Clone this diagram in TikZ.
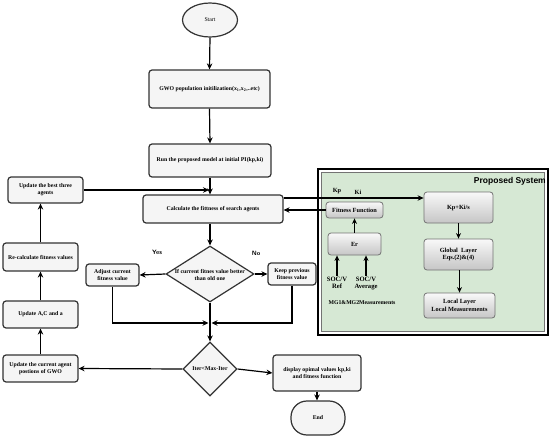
\documentclass[tikz,border=0pt]{standalone}
\usepackage{fontspec}
\setmainfont{Liberation Serif}
\newfontfamily\sysfont{Liberation Sans}
\usetikzlibrary{shapes.geometric,arrows.meta,calc}
\tikzset{
  box/.style={draw=black!80, line width=1.2pt, rounded corners=3pt, fill=gray!8, align=center,
    font=\fontsize{5.8}{6.8}\selectfont\bfseries, inner sep=1pt},
  dia/.style={draw=black!80, line width=1.2pt, fill=gray!8, diamond, inner sep=0pt},
  sbox/.style={draw=black!55, line width=0.8pt, rounded corners=3pt, top color=gray!5, bottom color=gray!45,
    align=center, font=\fontsize{6.3}{7.3}\selectfont\bfseries, inner sep=1pt},
  lbl/.style={font=\fontsize{5.8}{6.8}\selectfont\bfseries, align=center, inner sep=0.5pt},
  arr/.style={-{Stealth[length=6pt,width=5.5pt]}, line width=1.2pt},
  sarr/.style={-{Stealth[length=5.5pt,width=5pt]}, line width=1.4pt},
}
\begin{document}
\begin{tikzpicture}[x=1pt,y=-1pt]
\useasboundingbox (0,0) rectangle (550,439);
% proposed system frame
\draw[line width=2.4pt, black] (318,169) rectangle (548,335);
\draw[line width=0.9pt, black!55, fill={rgb,255:red,214;green,232;blue,212}] (321.5,172.5) rectangle (544.5,331.5);
\node[font=\sysfont\fontsize{8.5}{9}\selectfont\bfseries, anchor=east, inner sep=0pt] (title) at (546,181) {Proposed System};
\node[lbl, font=\fontsize{6.3}{7}\selectfont\bfseries] (kp) at (337,191) {Kp};
\node[lbl, font=\fontsize{6.3}{7}\selectfont\bfseries] (ki) at (358,192) {Ki};
\node[sbox, minimum width=57pt, minimum height=16pt] (fit) at (354.5,210) {Fitness Function};
\node[sbox, minimum width=53pt, minimum height=22pt] (er) at (354.5,244) {Er};
\node[lbl, font=\fontsize{6.6}{7.4}\selectfont\bfseries, anchor=north] (sref) at (337,276) {SOC/V\\Ref};
\node[lbl, font=\fontsize{6.6}{7.4}\selectfont\bfseries, anchor=north] (savg) at (366,276) {SOC/V\\Average};
\node[lbl] (mg) at (362,303) {MG1\&MG2Measurements};
\node[sbox, minimum width=69pt, minimum height=31pt] (kpki) at (458.5,207.5) {Kp+Ki/s};
\node[sbox, minimum width=69pt, minimum height=31pt] (glob) at (458.5,254.5) {Global~~Layer\\Eqs.(2)\&(4)};
\node[sbox, minimum width=71pt, minimum height=25pt] (local) at (459.5,305.5) {Local Layer\\Local Measurements};
\draw[sarr] (er.north) -- (fit.south);
\draw[sarr] (sref.north) -- (sref.north |- er.south);
\draw[sarr] (savg.north) -- (savg.north |- er.south);
\draw[sarr] (kpki.south) -- (glob.north);
\draw[sarr] (glob.south) -- (local.north |- glob.south) -- (local.north);
% flowchart
\node[ellipse, draw=black!80, line width=1.2pt, fill=gray!8, minimum width=55pt, minimum height=34pt,
  font=\fontsize{5.8}{6.8}\selectfont] (start) at (210,20) {Start};
\node[box, minimum width=121pt, minimum height=38pt] (gwo) at (209.5,89) {GWO population initilization(x\textsubscript{1},x\textsubscript{2},..etc)};
\node[box, minimum width=122pt, minimum height=33pt] (run) at (210,160.5) {Run the proposed model at initial PI(kp,ki)};
\node[box, minimum width=140pt, minimum height=28pt] (calc) at (213,209) {Calculate the fittness of search agents};
\node[box, minimum width=75pt, minimum height=26pt] (best) at (45.5,190) {Update the best three\\agents};
\node[box, minimum width=75pt, minimum height=28pt] (recalc) at (40.5,257) {Re-calculate fitness values};
\node[dia, minimum width=88pt, minimum height=56pt] (dia1) at (210,274) {};
\node[lbl] (dia1t) at (210,275) {If current fitnes value better\\than old one};
\node[lbl, font=\fontsize{6.3}{7}\selectfont\bfseries\sffamily] (yes) at (157,252) {Yes};
\node[lbl, font=\fontsize{6.3}{7}\selectfont\bfseries\sffamily] (no) at (256,253) {No};
\node[box, minimum width=53pt, minimum height=22pt] (adjust) at (112.5,275) {Adjust current\\fitness value};
\node[box, minimum width=48pt, minimum height=22pt] (keep) at (292,274) {Keep previous\\fitness value};
\coordinate (merge) at (210,323);
\node[dia, minimum width=54pt, minimum height=54pt] (iter) at (210,369) {};
\node[lbl] (itert) at (210,369) {Iter<Max-Iter};
\node[box, minimum width=75pt, minimum height=27pt] (updcur) at (40.5,368.5) {Update the current agent\\postions of GWO};
\node[box, minimum width=75pt, minimum height=27pt] (updac) at (40.5,314.5) {Update A,C and a};
\node[box, minimum width=88pt, minimum height=36pt] (disp) at (317,373) {display opimal values kp,ki\\and fitness function};
\node[draw=black!80, line width=1.2pt, fill=gray!8, rounded corners=16pt, minimum width=54pt, minimum height=34pt,
  font=\fontsize{5.8}{6.8}\selectfont\bfseries] (end) at (318,418) {End};
% connectors
\draw[arr] (start.south) -- (gwo.north);
\draw[arr] (gwo.south) -- (run.north);
\draw[arr] (run.south) -- (run.south |- calc.north);
\draw[arr] (best.east) -- ([xshift=-1pt]run.south |- best.east);
\draw[arr] (calc.south -| dia1.north) -- (dia1.north);
\draw[arr] (dia1.west) -- (adjust.east);
\draw[arr] (dia1.east) -- (keep.west);
\draw[arr] (adjust.south) |- ([xshift=-1.5pt]merge);
\draw[arr] (keep.south) |- ([xshift=1.5pt]merge);
\draw[arr] (dia1.south) -- (iter.north);
\draw[arr] (iter.west) -- (updcur.east);
\draw[arr] (updcur.north) -- (updac.south);
\draw[arr] (updac.north) -- (recalc.south);
\draw[arr] (recalc.north) -- (recalc.north |- best.south);
\draw[arr] (iter.east) -- (disp.west);
\draw[arr] (disp.south) -- (disp.south |- end.north);
\coordinate (c1) at ([yshift=11pt]calc.east);
\draw[arr] (c1) -- (c1 -| kpki.west);
\draw[arr] (fit.west) -- (fit.west -| calc.east);
\end{tikzpicture}
\end{document}
